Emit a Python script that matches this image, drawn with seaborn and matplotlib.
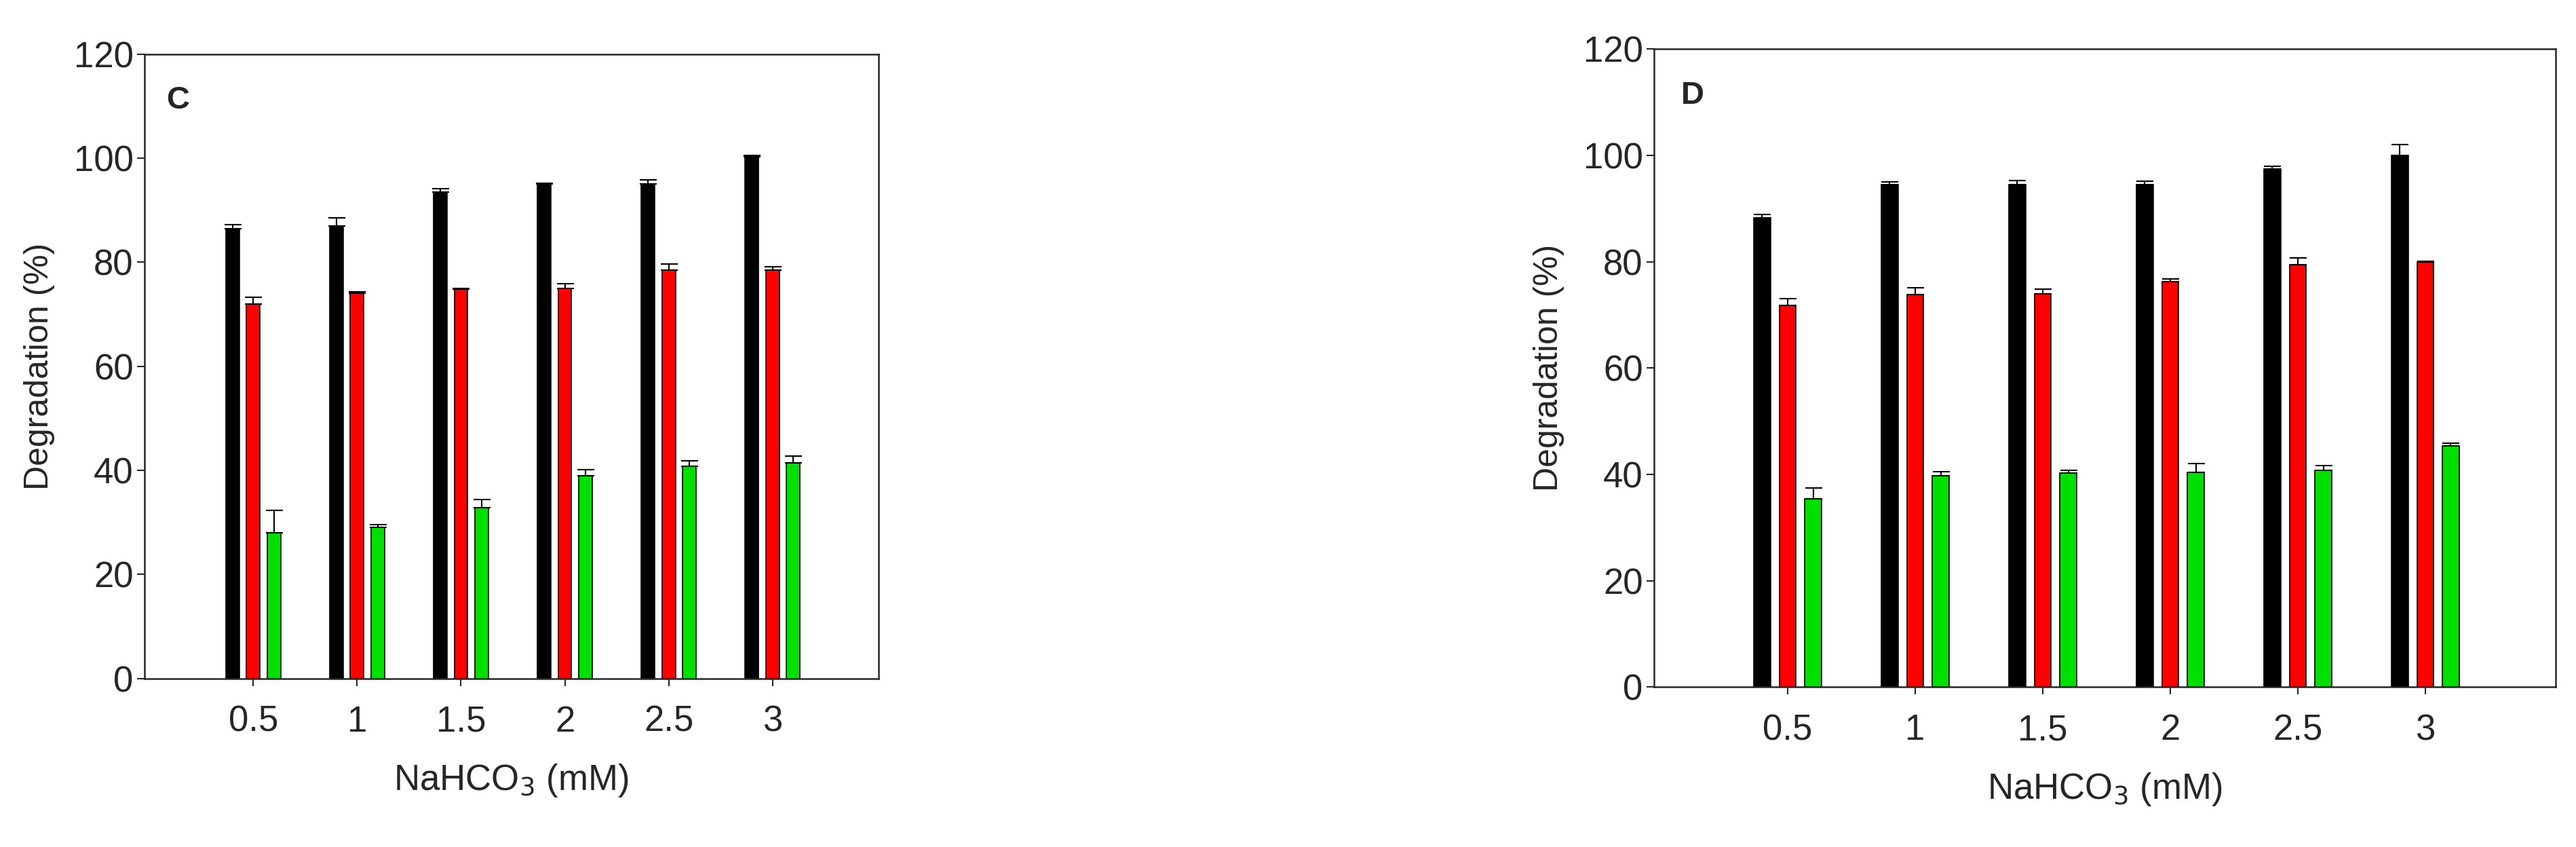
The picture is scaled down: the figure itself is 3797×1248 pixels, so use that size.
import matplotlib
matplotlib.use("Agg")
import matplotlib.pyplot as plt
import seaborn as sns
import pandas as pd

categories = ["0.5", "1", "1.5", "2", "2.5", "3"]
series = ["s1", "s2", "s3"]
colors = ["#000000", "#ff0000", "#00e000"]

c_black = [86.5, 87.0, 93.5, 95.0, 95.0, 100.3]
c_black_err = [0.8, 1.6, 0.7, 0.2, 0.9, 0.2]
c_red = [72.0, 74.0, 74.8, 75.0, 78.5, 78.5]
c_red_err = [1.3, 0.3, 0.2, 0.9, 1.2, 0.6]
c_green = [28.0, 29.0, 32.8, 39.0, 40.8, 41.5]
c_green_err = [4.3, 0.6, 1.6, 1.1, 1.0, 1.2]

d_black = [88.3, 94.5, 94.5, 94.5, 97.5, 100.0]
d_black_err = [0.6, 0.5, 0.8, 0.6, 0.5, 2.0]
d_red = [71.8, 73.8, 74.0, 76.3, 79.4, 80.0]
d_red_err = [1.2, 1.3, 0.8, 0.5, 1.3, 0.1]
d_green = [35.4, 39.7, 40.2, 40.4, 40.8, 45.4]
d_green_err = [2.0, 0.8, 0.6, 1.6, 0.9, 0.5]

panels = [
    ("C", [c_black, c_red, c_green], [c_black_err, c_red_err, c_green_err]),
    ("D", [d_black, d_red, d_green], [d_black_err, d_red_err, d_green_err]),
]
rects = [[0.056, 0.199, 0.285, 0.737], [0.642, 0.189, 0.350, 0.753]]

sns.set_style("ticks")
plt.rcParams["font.family"] = ["Liberation Sans", "DejaVu Sans"]

fig = plt.figure(figsize=(37.97, 12.48), dpi=100)
for (letter, vals, errs), rect in zip(panels, rects):
    ax = fig.add_axes(rect)
    rows = []
    for s, v in zip(series, vals):
        for c, y in zip(categories, v):
            rows.append({"cat": c, "series": s, "val": y})
    df = pd.DataFrame(rows)
    sns.barplot(data=df, x="cat", y="val", hue="series", order=categories,
                hue_order=series, palette=colors, saturation=1, width=0.6, gap=0.35,
                errorbar=None, edgecolor="black", linewidth=1.2, legend=False, ax=ax)
    for cont, e in zip(ax.containers, errs):
        for p, err in zip(cont.patches, e):
            xc = p.get_x() + p.get_width() / 2
            ax.errorbar(xc, p.get_height(), yerr=[[0], [err]], fmt="none",
                        ecolor="black", elinewidth=1.5, capsize=9, capthick=1.5)
    ax.set_xlim(-1.05, 6.02)
    ax.set_ylim(0, 120)
    ax.set_yticks(range(0, 121, 20))
    ax.set_xlabel("NaHCO$_3$ (mM)", fontsize=38, labelpad=25)
    ax.set_ylabel("Degradation (%)", fontsize=36, labelpad=20)
    ax.tick_params(labelsize=38, width=1.5, length=8)
    ax.tick_params(axis="x", pad=20)
    for sp in ax.spines.values():
        sp.set_visible(True)
        sp.set_linewidth(1.8)
    ax.text(0.03, 0.95, letter, transform=ax.transAxes, fontsize=34,
            fontweight="bold", va="top", ha="left")

fig.savefig("out.png", dpi=100)
